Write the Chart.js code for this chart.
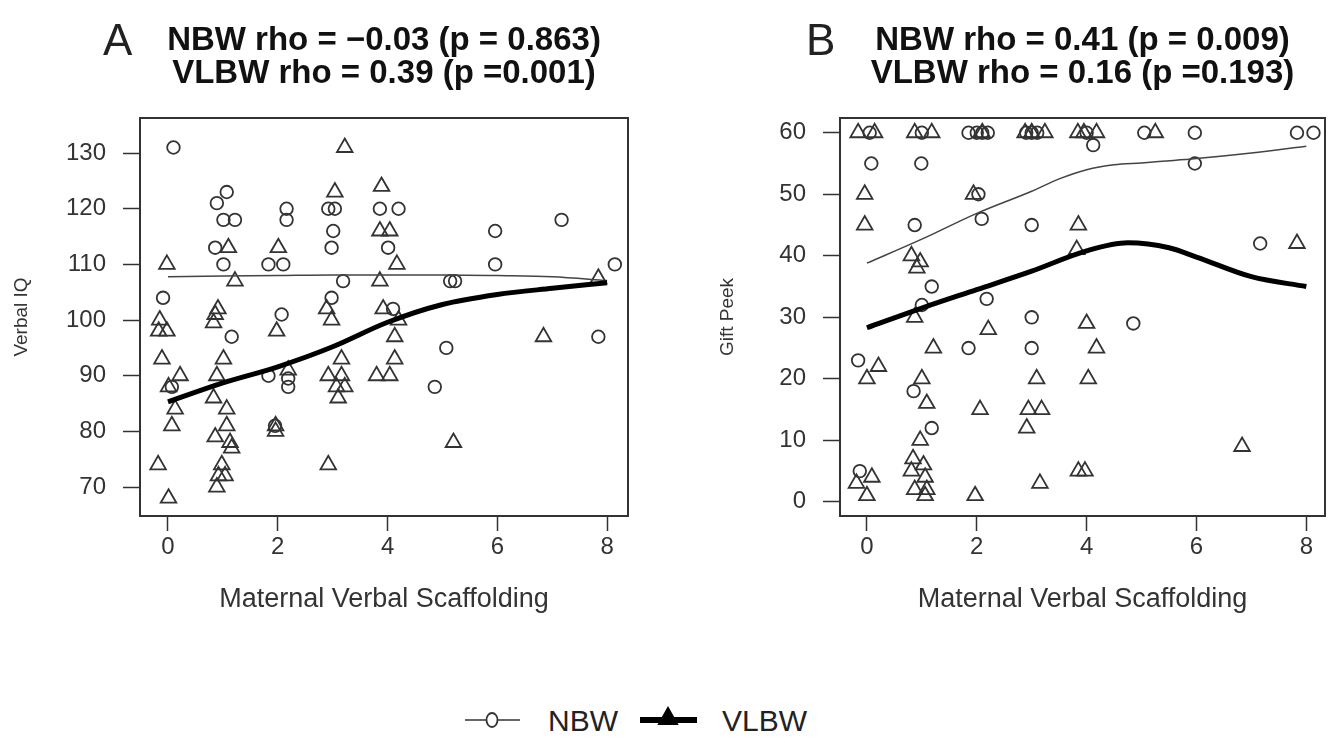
<!DOCTYPE html>
<html>
<head>
<meta charset="utf-8">
<script src="https://cdn.jsdelivr.net/npm/chart.js@4.4.0/dist/chart.umd.min.js"></script>
<style>
  html, body { margin: 0; padding: 0; background: #fff; }
  body { width: 1340px; height: 750px; position: relative; overflow: hidden; font-family: "Liberation Sans", Arial, sans-serif; color: #222; }
  .panel { position: absolute; top: 0; width: 670px; height: 700px; }
  .tag { position: absolute; top: 18px; font-size: 44px; line-height: 44px; color: #222; }
  .legend { position: absolute; top: 700px; left: 0; width: 1340px; height: 50px; }
  .legend span { position: absolute; top: 4px; font-size: 30px; line-height: 34px; color: #222; }
</style>
</head>
<body>
<div class="panel" style="left:0"><canvas id="chartA" width="670" height="700"></canvas></div>
<div class="panel" style="left:670px"><canvas id="chartB" width="670" height="700"></canvas></div>
<div class="tag" style="left:103px">A</div>
<div class="tag" style="left:806px">B</div>
<div class="legend">
  <svg width="1340" height="50" style="position:absolute;left:0;top:0">
    <line x1="465" y1="20" x2="520" y2="20" stroke="#333" stroke-width="1.6"/>
    <ellipse cx="492" cy="20" rx="5.5" ry="7" fill="#fff" stroke="#333" stroke-width="1.8"/>
    <line x1="640" y1="20" x2="697" y2="20" stroke="#000" stroke-width="6"/>
    <polygon points="668,8 677,24 659,24" fill="#000" stroke="#000" stroke-width="2"/>
  </svg>
  <span style="left:548px">NBW</span>
  <span style="left:722px">VLBW</span>
</div>
<script>
// tick labels
const xTicks = [0, 2, 4, 6, 8];
const iqTicks = [70, 80, 90, 100, 110, 120, 130];
const peekTicks = [0, 10, 20, 30, 40, 50, 60];

// panel A: Verbal IQ, points [scaffolding, score]
const iqNbw = [
  [0.1,131],[1.07,123],[0.89,121],[2.16,120],[2.16,118],[2.92,120],[3.04,120],[3.86,120],[4.2,120],
  [1.01,118],[1.22,118],[3.01,116],[0.86,113],[2.98,113],[4.01,113],[1.01,110],[1.83,110],[2.1,110],
  [3.19,107],[-0.09,104],[2.98,104],[2.07,101],[4.1,102],[1.16,97],[0.07,88],[1.83,90],[2.19,89.5],
  [2.19,88],[1.95,81],[5.96,116],[7.17,118],[5.96,110],[8.14,110],[5.14,107],[5.23,107],[5.07,95],
  [4.86,88],[7.84,97]
];
const iqVlbw = [
  [3.22,131],[3.04,123],[3.89,124],[3.86,116],[4.04,116],[1.10,113],[2.01,113],[-0.02,110],[4.17,110],
  [1.22,107],[3.86,107],[0.91,102],[2.89,102],[3.92,102],[-0.15,100],[-0.02,98],[-0.17,98],[-0.11,93],
  [0.22,90],[0.01,88],[0.13,84],[0.07,81],[-0.18,74],[0.01,68],[0.86,101],[0.83,99.5],[1.98,98],
  [2.98,100],[4.13,97],[1.01,93],[3.16,93],[4.13,93],[0.89,90],[2.19,91],[2.92,90],[3.16,90],[3.07,88],
  [3.22,88],[3.10,86],[3.80,90],[4.04,90],[0.83,86],[1.07,84],[1.07,81],[0.86,79],[1.96,81],[1.96,80],
  [1.13,78],[1.16,77],[2.92,74],[0.98,74],[0.92,72],[1.04,72],[0.89,70],[5.2,78],[6.84,97],[7.84,107.5],
  [4.2,100]
];
const iqNbwFitX = [0, 1, 2, 3, 4, 5, 6, 7, 8];
const iqNbwFitY = [107.8, 107.9, 108.0, 108.1, 108.1, 108.1, 108.0, 107.8, 107.1];
const iqVlbwFitX = [0, 1, 2, 3, 4, 5, 6, 7, 8];
const iqVlbwFitY = [85.3, 88.7, 91.6, 95.2, 99.6, 102.8, 104.6, 105.7, 106.7];

// panel B: Gift Peek
const peekNbw = [
  [0.05,60],[1.0,60],[1.85,60],[2.0,60],[2.1,60],[2.2,60],[2.9,60],[3.0,60],[3.1,60],[4.0,60],[5.05,60],
  [5.97,60],[7.83,60],[8.13,60],[4.12,58],[0.08,55],[0.99,55],[5.97,55],[2.03,50],[2.09,46],[0.87,45],
  [3.0,45],[7.16,42],[1.18,35],[2.18,33],[1.0,32],[3.0,30],[4.85,29],[1.85,25],[3.0,25],[-0.16,23],
  [0.85,18],[1.18,12],[-0.13,5]
];
const peekVlbw = [
  [-0.16,60],[0.14,60],[0.87,60],[1.18,60],[2.1,60],[2.88,60],[3.0,60],[3.24,60],[3.84,60],[3.95,60],
  [4.18,60],[5.25,60],[-0.04,50],[1.94,50],[-0.04,45],[3.85,45],[3.82,41],[7.83,42],[0.81,40],[0.97,39],
  [0.91,38],[0.87,30],[2.21,28],[4.0,29],[1.21,25],[4.18,25],[0.21,22],[0,20],[1.0,20],[3.09,20],
  [4.03,20],[1.09,16],[2.06,15],[2.94,15],[3.18,15],[2.91,12],[0.97,10],[6.83,9],[0.84,7],[1.03,6],
  [0.81,5],[1.06,4],[0.87,2],[1.09,2],[1.06,1],[-0.19,3],[0.09,4],[0,1],[1.97,1],[3.15,3],[3.85,5],[3.97,5]
];
const peekNbwFitX = [0, 1, 2, 3, 3.5, 4, 4.5, 5, 6, 7, 8];
const peekNbwFitY = [38.8, 42.7, 46.9, 50.5, 52.5, 54.0, 54.8, 55.1, 55.8, 56.7, 57.8];
const peekVlbwFitX = [0, 1, 2, 3, 4, 4.75, 5.5, 6, 7, 8];
const peekVlbwFitY = [28.3, 31.5, 34.5, 37.5, 40.8, 42.1, 41.3, 39.8, 36.6, 35.0];

const FONT = "'Liberation Sans', Arial, sans-serif";
const INK = '#333';

const toPts = arr => arr.map(([x, y]) => ({ x, y }));
const zip = (xs, ys) => xs.map((x, i) => ({ x, y: ys[i] }));

// draws the frame around the plot region, like R's box()
const boxPlugin = {
  id: 'box',
  afterDatasetsDraw(chart) {
    const { ctx, chartArea: a } = chart;
    ctx.save();
    ctx.strokeStyle = INK;
    ctx.lineWidth = 2;
    ctx.strokeRect(a.left, a.top, a.right - a.left, a.bottom - a.top);
    ctx.restore();
  }
};

function makePanel(canvasId, o) {
  return new Chart(document.getElementById(canvasId), {
    type: 'scatter',
    data: {
      datasets: [
        {
          type: 'line', data: zip(o.vFitX, o.vFitY), borderColor: '#000', borderWidth: 5,
          pointRadius: 0, cubicInterpolationMode: 'monotone', fill: false
        },
        {
          type: 'line', data: zip(o.nFitX, o.nFitY), borderColor: '#444', borderWidth: 1.5,
          pointRadius: 0, cubicInterpolationMode: 'monotone', fill: false
        },
        {
          data: toPts(o.nbw), pointStyle: 'circle', pointRadius: 6.3,
          borderColor: INK, borderWidth: 1.8, backgroundColor: 'rgba(0,0,0,0)'
        },
        {
          data: toPts(o.vlbw), pointStyle: 'triangle', pointRadius: 9,
          borderColor: INK, borderWidth: 1.8, backgroundColor: 'rgba(0,0,0,0)'
        }
      ]
    },
    options: {
      responsive: false,
      animation: false,
      events: [],
      layout: { padding: { left: 0, right: o.padRight, top: 0, bottom: 0 } },
      plugins: {
        legend: { display: false },
        tooltip: { enabled: false },
        title: {
          display: true,
          fullSize: false,
          text: o.title,
          color: '#111',
          font: { family: FONT, size: 33, weight: 'bold', lineHeight: 1.0 },
          padding: { top: 24, bottom: 28 }
        }
      },
      scales: {
        x: {
          type: 'linear',
          min: o.xMin, max: o.xMax,
          afterBuildTicks: s => { s.ticks = xTicks.map(v => ({ value: v })); },
          afterFit: s => { s.height = 184; },
          border: { display: false },
          grid: { drawOnChartArea: false, drawTicks: true, tickLength: 15, tickColor: INK, tickWidth: 1.5 },
          ticks: { color: INK, font: { family: FONT, size: 24 }, padding: 2, maxRotation: 0 },
          title: {
            display: true, text: 'Maternal Verbal Scaffolding', color: INK,
            font: { family: FONT, size: 27, lineHeight: 1 }, padding: { top: 0, bottom: 87 }
          }
        },
        y: {
          type: 'linear',
          min: o.yMin, max: o.yMax,
          afterBuildTicks: s => { s.ticks = o.yTicks.map(v => ({ value: v })); },
          afterFit: s => { s.width = o.yWidth; },
          border: { display: false },
          grid: { drawOnChartArea: false, drawTicks: true, tickLength: 17, tickColor: INK, tickWidth: 1.5 },
          ticks: { color: INK, font: { family: FONT, size: 24 }, padding: 17 },
          title: {
            display: true, text: o.yTitle, color: INK,
            font: { family: FONT, size: 19, lineHeight: 1 }, padding: { top: o.yTitlePad, bottom: 0 }
          }
        }
      }
    },
    plugins: [boxPlugin]
  });
}

makePanel('chartA', {
  title: ['NBW rho = \u22120.03 (p = 0.863)', 'VLBW rho = 0.39 (p =0.001)'],
  nbw: iqNbw, vlbw: iqVlbw,
  nFitX: iqNbwFitX, nFitY: iqNbwFitY, vFitX: iqVlbwFitX, vFitY: iqVlbwFitY,
  xMin: -0.51, xMax: 8.38, yMin: 64.8, yMax: 136.3, yTicks: iqTicks,
  yTitle: 'Verbal IQ', yWidth: 140, yTitlePad: 12, padRight: 42
});

makePanel('chartB', {
  title: ['NBW rho = 0.41 (p = 0.009)', 'VLBW rho = 0.16 (p =0.193)'],
  nbw: peekNbw, vlbw: peekVlbw,
  nFitX: peekNbwFitX, nFitY: peekNbwFitY, vFitX: peekVlbwFitX, vFitY: peekVlbwFitY,
  xMin: -0.49, xMax: 8.34, yMin: -2.3, yMax: 62.4, yTicks: peekTicks,
  yTitle: 'Gift Peek', yWidth: 170, yTitlePad: 48, padRight: 15
});
</script>
</body>
</html>
